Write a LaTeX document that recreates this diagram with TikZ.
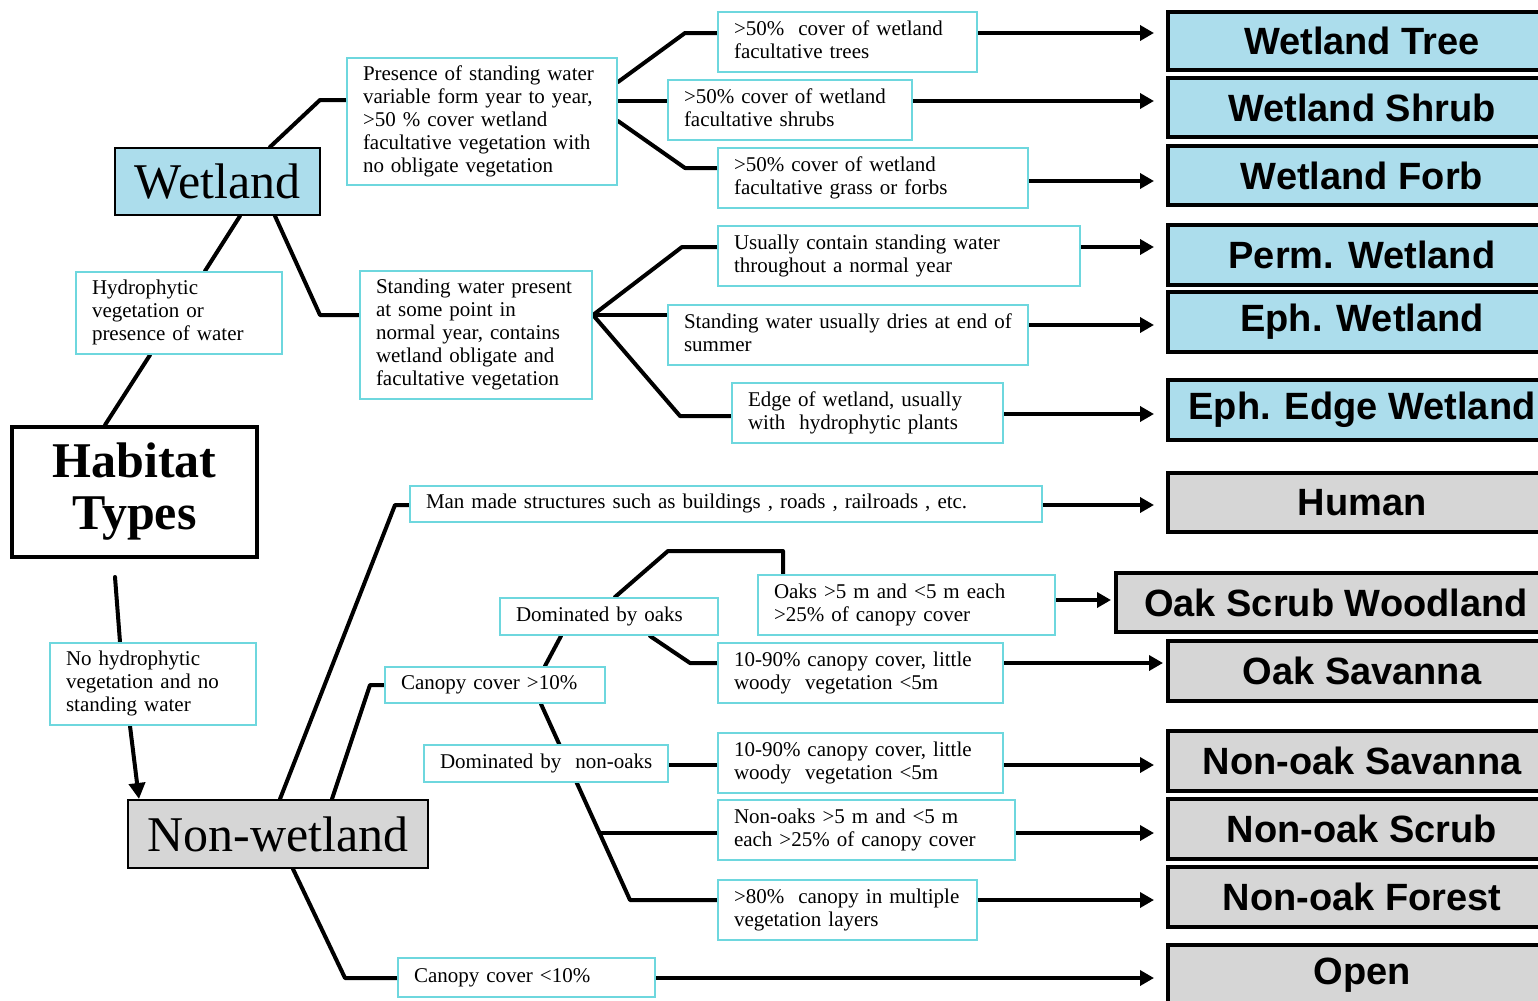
\documentclass[tikz,border=0pt]{standalone}
\usepackage{fontspec}
\setmainfont{Liberation Serif}
\newfontfamily\rsans{Liberation Sans}
\usetikzlibrary{arrows.meta,calc}
\pgfdeclarelayer{back}
\pgfdeclarelayer{lines}
\pgfsetlayers{back,lines,main}
\definecolor{cyb}{RGB}{110,215,222}
\definecolor{wblue}{RGB}{172,221,236}
\definecolor{mgray}{RGB}{214,214,214}
\tikzset{
 tbox/.style={draw=cyb, line width=1pt, fill=white, inner xsep=8pt, inner ysep=2pt, align=left, font=\fontsize{10.5}{11.5}\selectfont},
 rbox/.style={draw=black, line width=2pt, inner sep=0pt, font=\rsans\bfseries\fontsize{19}{22}\selectfont},
 wetfill/.style={fill=wblue},
 nonfill/.style={fill=mgray},
 conn/.style={line width=2pt, line join=round, line cap=round},
 arr/.style={line width=2pt, -{Triangle[length=7pt,width=7.5pt]}, shorten >=6pt},
}
\newcommand\tb[6]{\pgfmathsetmacro\tbw{(#4-#2)*0.5-16}%
\node[tbox, minimum width={(#4-#2)*0.5pt}, minimum height={(#5-#3)*0.5pt}, text width=\tbw pt] (#1) at ({(#2+#4)/2},{(#3+#5)/2}) {\noindent\begin{tabular}{@{}l@{}}#6\end{tabular}};}
\newcommand\rb[6]{\node[rbox,#6, minimum width={(1556-#2)*0.5pt}, minimum height={(#4-#3)*0.5pt}] (#1) at ({(#2+1556)/2},{(#3+#4)/2}) {#5};}
\begin{document}
\begin{tikzpicture}[x=0.5pt,y=-0.5pt]
\useasboundingbox (0,0) rectangle (1538,1001);
\begin{pgfonlayer}{back}\fill[white] (0,0) rectangle (1538,1001);\end{pgfonlayer}
\clip (0,0) rectangle (1538,1001);
% main nodes
\node[draw, line width=2pt, fill=white, minimum width=122.5pt, minimum height=65pt, align=center, font=\bfseries\fontsize{25}{26}\selectfont] (hab) at (134.5,492) {Habitat\\Types};
\node[draw=black, line width=1pt, wetfill, minimum width=102.5pt, minimum height=33.5pt, font=\fontsize{25}{26}\selectfont] (wet) at (217.5,181.5) {Wetland};
\node[draw=black, line width=1pt, nonfill, minimum width=150pt, minimum height=34pt, font=\fontsize{25}{26}\selectfont] (nonw) at (278,834) {Non-wetland};
% text boxes
\tb{hyd}{76}{272}{282}{354}{Hydrophytic\\vegetation or\\presence of water}
\tb{pres}{347}{58}{617}{185}{Presence of standing water\\variable form year to year,\\>50 \% cover wetland\\facultative vegetation with\\no obligate vegetation}
\tb{stand}{360}{271}{592}{399}{Standing water present\\at some point in\\normal year, contains\\wetland obligate and\\facultative vegetation}
\tb{t1}{718}{12}{977}{72}{>50\%~ cover of wetland\\facultative trees}
\tb{t2}{668}{80}{912}{140}{>50\% cover of wetland\\facultative shrubs}
\tb{t3}{718}{148}{1028}{208}{>50\% cover of wetland\\facultative grass or forbs}
\tb{t4}{718}{226}{1080}{286}{Usually contain standing water\\throughout a normal year}
\tb{t5}{668}{305}{1028}{365}{Standing water usually dries at end of\\summer}
\tb{t6}{732}{383}{1003}{443}{Edge of wetland, usually\\with~ hydrophytic plants}
\tb{nohyd}{50}{643}{256}{725}{No hydrophytic\\vegetation and no\\standing water}
\tb{man}{410}{486}{1042}{522}{Man made structures such as buildings , roads , railroads , etc.}
\tb{oaks}{500}{598}{718}{635}{Dominated by oaks}
\tb{cgt}{385}{667}{605}{703}{Canopy cover >10\%}
\tb{nonoaks}{424}{745}{668}{782}{Dominated by~ non-oaks}
\tb{o1}{758}{575}{1055}{635}{Oaks >5 m and <5 m each\\>25\% of canopy cover}
\tb{o2}{718}{643}{1003}{703}{10-90\% canopy cover, little\\woody~ vegetation <5m}
\tb{n1}{718}{733}{1003}{793}{10-90\% canopy cover, little\\woody~ vegetation <5m}
\tb{n2}{718}{800}{1015}{860}{Non-oaks >5 m and <5 m\\each >25\% of canopy cover}
\tb{n3}{718}{880}{977}{940}{>80\%~ canopy in multiple\\vegetation layers}
\tb{clt}{398}{958}{655}{997}{Canopy cover <10\%}
% result boxes
\rb{r1}{1168}{12}{70}{Wetland Tree}{wetfill}
\rb{r2}{1168}{78}{137}{Wetland Shrub}{wetfill}
\rb{r3}{1168}{146}{205}{Wetland Forb}{wetfill}
\rb{r4}{1168}{225}{285}{Perm. Wetland}{wetfill}
\rb{r5}{1168}{292}{352}{Eph. Wetland}{wetfill}
\rb{r6}{1168}{380}{440}{Eph. Edge Wetland}{wetfill}
\rb{r7}{1168}{473}{532}{Human}{nonfill}
\rb{r8}{1116}{573}{632}{Oak Scrub Woodland}{nonfill}
\rb{r9}{1168}{641}{701}{Oak Savanna}{nonfill}
\rb{r10}{1168}{731}{791}{Non-oak Savanna}{nonfill}
\rb{r11}{1168}{799}{859}{Non-oak Scrub}{nonfill}
\rb{r12}{1168}{867}{927}{Non-oak Forest}{nonfill}
\rb{r13}{1168}{945}{1005}{Open}{nonfill}
% connectors
\begin{pgfonlayer}{lines}
\draw[conn] (hab.north -| 105,0) -- (hyd.south -| 150,0);
\draw[conn] (hyd.north -| 205,0) -- (wet.south -| 240,0);
\draw[conn] (wet.north -| 270,0) -- (320,100) -- (pres.west |- 0,100);
\draw[conn] (wet.south -| 275,0) -- (320,315) -- (stand.west |- 0,315);
\draw[conn] (pres.east |- 0,82) -- (685,33) -- (t1.west |- 0,33);
\draw[conn] (pres.east |- 0,101) -- (t2.west |- 0,101);
\draw[conn] (pres.east |- 0,121) -- (685,168) -- (t3.west |- 0,168);
\draw[conn] (stand.east |- 0,315) -- (682,247) -- (t4.west |- 0,247);
\draw[conn] (stand.east |- 0,315) -- (t5.west |- 0,315);
\draw[conn] (stand.east |- 0,315) -- (680,416) -- (t6.west |- 0,416);
\draw[arr] (t1.east |- 0,33) -- (r1.west |- 0,33);
\draw[arr] (t2.east |- 0,101) -- (r2.west |- 0,101);
\draw[arr] (t3.east |- 0,181) -- (r3.west |- 0,181);
\draw[arr] (t4.east |- 0,247) -- (r4.west |- 0,247);
\draw[arr] (t5.east |- 0,325) -- (r5.west |- 0,325);
\draw[arr] (t6.east |- 0,414) -- (r6.west |- 0,414);
% non-wetland side
\draw[conn] ($(hab.south -| 115,0)+(0,18)$) -- (nohyd.north -| 120,0);
\draw[line width=2pt, -{Triangle[length=8pt,width=8pt]}] (nohyd.south -| 130,0) -- (nonw.north -| 139,0);
\draw[conn] (nonw.north -| 280,0) -- (395,505) -- (man.west |- 0,505);
\draw[conn] (nonw.north -| 332,0) -- (370,685) -- (cgt.west |- 0,685);
\draw[conn] (nonw.south -| 293,0) -- (345,978) -- (clt.west |- 0,978);
\draw[conn] (cgt.north -| 545,0) -- (oaks.south -| 561,0);
\draw[conn] (oaks.north -| 615,0) -- (668,551) -- (783,551) -- (o1.north -| 783,0);
\draw[conn] (oaks.south -| 650,0) -- (690,663) -- (o2.west |- 0,663);
\coordinate (dtop) at (cgt.south -| 541,0);
\coordinate (dbot) at (630,900);
\coordinate (jn) at ($(dtop)!0.66!(dbot)$);
\draw[conn] (dtop) -- (dbot) -- (n3.west |- dbot);
\draw[conn] (nonoaks.east |- 0,765) -- (n1.west |- 0,765);
\draw[conn] (jn) -- (n2.west |- jn);
\draw[arr] (man.east |- 0,505) -- (r7.west |- 0,505);
\draw[arr, shorten >=1.5pt] (o1.east |- 0,600) -- (r8.west |- 0,600);
\draw[arr, shorten >=1.5pt] (o2.east |- 0,663) -- (r9.west |- 0,663);
\draw[arr] (n1.east |- 0,765) -- (r10.west |- 0,765);
\draw[arr] (n2.east |- 0,833) -- (r11.west |- 0,833);
\draw[arr] (n3.east |- 0,900) -- (r12.west |- 0,900);
\draw[arr] (clt.east |- 0,978) -- (r13.west |- 0,978);
\end{pgfonlayer}
\end{tikzpicture}
\end{document}
